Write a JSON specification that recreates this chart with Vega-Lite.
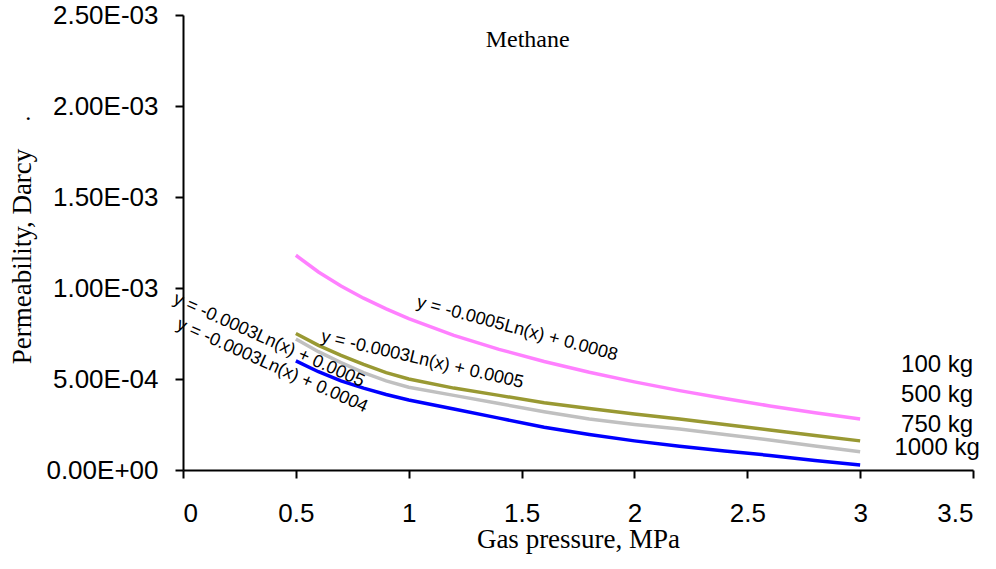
{
  "$schema": "https://vega.github.io/schema/vega-lite/v6.json",
  "width": 790,
  "height": 455,
  "autosize": {"type": "none"},
  "padding": {"left": 183, "top": 15, "right": 23, "bottom": 99},
  "background": "white",
  "config": {
    "view": {"stroke": null},
    "axis": {"grid": false, "domainColor": "black", "domainWidth": 2, "tickColor": "black", "tickWidth": 2, "tickSize": 8, "labelColor": "black", "titleColor": "black", "labelFont": "Liberation Sans", "labelFontSize": 26, "titleFont": "Liberation Serif", "titleFontSize": 27, "titleFontWeight": "normal"}
  },
  "datasets": {
    "curves": [
      {"series": "100 kg", "pressure": 0.5, "permeability": 0.00118},
      {"series": "100 kg", "pressure": 0.6, "permeability": 0.001088},
      {"series": "100 kg", "pressure": 0.7, "permeability": 0.001011},
      {"series": "100 kg", "pressure": 0.8, "permeability": 0.000944},
      {"series": "100 kg", "pressure": 0.9, "permeability": 0.000885},
      {"series": "100 kg", "pressure": 1.0, "permeability": 0.000832},
      {"series": "100 kg", "pressure": 1.2, "permeability": 0.00074},
      {"series": "100 kg", "pressure": 1.4, "permeability": 0.000663},
      {"series": "100 kg", "pressure": 1.6, "permeability": 0.000596},
      {"series": "100 kg", "pressure": 1.8, "permeability": 0.000537},
      {"series": "100 kg", "pressure": 2.0, "permeability": 0.000484},
      {"series": "100 kg", "pressure": 2.2, "permeability": 0.000436},
      {"series": "100 kg", "pressure": 2.4, "permeability": 0.000393},
      {"series": "100 kg", "pressure": 2.6, "permeability": 0.000352},
      {"series": "100 kg", "pressure": 2.8, "permeability": 0.000315},
      {"series": "100 kg", "pressure": 3.0, "permeability": 0.00028},
      {"series": "500 kg", "pressure": 0.5, "permeability": 0.00075},
      {"series": "500 kg", "pressure": 0.6, "permeability": 0.000685},
      {"series": "500 kg", "pressure": 0.7, "permeability": 0.00063},
      {"series": "500 kg", "pressure": 0.8, "permeability": 0.00058},
      {"series": "500 kg", "pressure": 0.9, "permeability": 0.000535},
      {"series": "500 kg", "pressure": 1.0, "permeability": 0.0005},
      {"series": "500 kg", "pressure": 1.2, "permeability": 0.00045},
      {"series": "500 kg", "pressure": 1.4, "permeability": 0.00041},
      {"series": "500 kg", "pressure": 1.6, "permeability": 0.00037},
      {"series": "500 kg", "pressure": 1.8, "permeability": 0.000338},
      {"series": "500 kg", "pressure": 2.0, "permeability": 0.000308},
      {"series": "500 kg", "pressure": 2.2, "permeability": 0.00028},
      {"series": "500 kg", "pressure": 2.4, "permeability": 0.00025},
      {"series": "500 kg", "pressure": 2.6, "permeability": 0.00022},
      {"series": "500 kg", "pressure": 2.8, "permeability": 0.00019},
      {"series": "500 kg", "pressure": 3.0, "permeability": 0.00016},
      {"series": "750 kg", "pressure": 0.5, "permeability": 0.00072},
      {"series": "750 kg", "pressure": 0.6, "permeability": 0.00065},
      {"series": "750 kg", "pressure": 0.7, "permeability": 0.00059},
      {"series": "750 kg", "pressure": 0.8, "permeability": 0.000535},
      {"series": "750 kg", "pressure": 0.9, "permeability": 0.00049},
      {"series": "750 kg", "pressure": 1.0, "permeability": 0.000455},
      {"series": "750 kg", "pressure": 1.2, "permeability": 0.00041},
      {"series": "750 kg", "pressure": 1.4, "permeability": 0.000365},
      {"series": "750 kg", "pressure": 1.6, "permeability": 0.00032},
      {"series": "750 kg", "pressure": 1.8, "permeability": 0.00028},
      {"series": "750 kg", "pressure": 2.0, "permeability": 0.00025},
      {"series": "750 kg", "pressure": 2.2, "permeability": 0.000225},
      {"series": "750 kg", "pressure": 2.4, "permeability": 0.000195},
      {"series": "750 kg", "pressure": 2.6, "permeability": 0.000165},
      {"series": "750 kg", "pressure": 2.8, "permeability": 0.000132},
      {"series": "750 kg", "pressure": 3.0, "permeability": 0.0001},
      {"series": "1000 kg", "pressure": 0.5, "permeability": 0.0006},
      {"series": "1000 kg", "pressure": 0.6, "permeability": 0.00054},
      {"series": "1000 kg", "pressure": 0.7, "permeability": 0.00049},
      {"series": "1000 kg", "pressure": 0.8, "permeability": 0.00045},
      {"series": "1000 kg", "pressure": 0.9, "permeability": 0.000415},
      {"series": "1000 kg", "pressure": 1.0, "permeability": 0.000385},
      {"series": "1000 kg", "pressure": 1.2, "permeability": 0.000335},
      {"series": "1000 kg", "pressure": 1.4, "permeability": 0.000285},
      {"series": "1000 kg", "pressure": 1.6, "permeability": 0.000235},
      {"series": "1000 kg", "pressure": 1.8, "permeability": 0.000195},
      {"series": "1000 kg", "pressure": 2.0, "permeability": 0.00016},
      {"series": "1000 kg", "pressure": 2.2, "permeability": 0.00013},
      {"series": "1000 kg", "pressure": 2.4, "permeability": 0.000105},
      {"series": "1000 kg", "pressure": 2.6, "permeability": 0.00008},
      {"series": "1000 kg", "pressure": 2.8, "permeability": 0.000052},
      {"series": "1000 kg", "pressure": 3.0, "permeability": 0.000027}
    ],
    "seriesLabels": [
      {"label": "100 kg", "pressure": 3.341, "permeability": 0.00054},
      {"label": "500 kg", "pressure": 3.341, "permeability": 0.000375},
      {"label": "750 kg", "pressure": 3.341, "permeability": 0.00021},
      {"label": "1000 kg", "pressure": 3.341, "permeability": 0.000082}
    ],
    "equations": [
      {"id": "pink", "label": "y = -0.0005Ln(x) + 0.0008", "pressure": 1.48, "permeability": 0.000775},
      {"id": "olive", "label": "y = -0.0003Ln(x) + 0.0005", "pressure": 1.06, "permeability": 0.000605},
      {"id": "grey", "label": "y = -0.0003Ln(x) + 0.0005", "pressure": 0.38, "permeability": 0.000712},
      {"id": "blue", "label": "y = -0.0003Ln(x) + 0.0004", "pressure": 0.395, "permeability": 0.000572}
    ],
    "notes": [
      {"label": "Methane", "pressure": 1.527, "permeability": 0.002326},
      {"label": ".", "pressure": -0.686, "permeability": 0.001923}
    ]
  },
  "layer": [
    {
      "data": {"name": "curves"},
      "mark": {"type": "line", "strokeWidth": 3.5},
      "encoding": {
        "x": {"field": "pressure", "type": "quantitative", "scale": {"domain": [0, 3.5], "nice": false, "zero": false},
          "axis": {"values": [0, 0.5, 1, 1.5, 2, 2.5, 3, 3.5], "labelExpr": "format(datum.value, '~g')", "labelPadding": 22, "title": "Gas pressure, MPa", "titleX": 395, "titleY": 77, "titleAnchor": null, "titleAlign": "center", "titleBaseline": "alphabetic"}},
        "y": {"field": "permeability", "type": "quantitative", "scale": {"domain": [0, 0.0025], "nice": false},
          "axis": {"values": [0, 0.0005, 0.001, 0.0015, 0.002, 0.0025], "labelExpr": "datum.value == 0 ? '0.00E+00' : format(datum.value / pow(10, floor(log(datum.value) / LN10 + 1e-9)), '.2f') + 'E-0' + (-floor(log(datum.value) / LN10 + 1e-9))", "labelPadding": 17, "title": "Permeability, Darcy", "titleX": -161, "titleY": 241, "titleAngle": -90, "titleAlign": "center", "titleBaseline": "middle"}},
        "color": {"field": "series", "type": "nominal", "scale": {"domain": ["100 kg", "500 kg", "750 kg", "1000 kg"], "range": ["#FF80FF", "#999933", "#C0C0C0", "#0000FF"]}, "legend": null},
        "order": {"field": "pressure", "type": "quantitative"}
      }
    },
    {
      "data": {"name": "seriesLabels"},
      "mark": {"type": "text", "font": "Liberation Sans", "fontSize": 24, "align": "center", "baseline": "alphabetic", "color": "black"},
      "encoding": {
        "x": {"field": "pressure", "type": "quantitative"},
        "y": {"field": "permeability", "type": "quantitative"},
        "text": {"field": "label"}
      }
    },
    {
      "data": {"name": "equations"},
      "transform": [{"filter": "datum.id == 'pink'"}],
      "mark": {"type": "text", "font": "Liberation Sans", "fontSize": 18, "align": "center", "baseline": "middle", "angle": 15, "color": "black"},
      "encoding": {
        "x": {"field": "pressure", "type": "quantitative"},
        "y": {"field": "permeability", "type": "quantitative"},
        "text": {"field": "label"}
      }
    },
    {
      "data": {"name": "equations"},
      "transform": [{"filter": "datum.id == 'olive'"}],
      "mark": {"type": "text", "font": "Liberation Sans", "fontSize": 18, "align": "center", "baseline": "middle", "angle": 13, "color": "black"},
      "encoding": {
        "x": {"field": "pressure", "type": "quantitative"},
        "y": {"field": "permeability", "type": "quantitative"},
        "text": {"field": "label"}
      }
    },
    {
      "data": {"name": "equations"},
      "transform": [{"filter": "datum.id == 'grey' || datum.id == 'blue'"}],
      "mark": {"type": "text", "font": "Liberation Sans", "fontSize": 18, "align": "center", "baseline": "middle", "angle": 24, "color": "black"},
      "encoding": {
        "x": {"field": "pressure", "type": "quantitative"},
        "y": {"field": "permeability", "type": "quantitative"},
        "text": {"field": "label"}
      }
    },
    {
      "data": {"name": "notes"},
      "mark": {"type": "text", "font": "Liberation Serif", "fontSize": 24, "align": "center", "baseline": "alphabetic", "color": "black"},
      "encoding": {
        "x": {"field": "pressure", "type": "quantitative"},
        "y": {"field": "permeability", "type": "quantitative"},
        "text": {"field": "label"}
      }
    }
  ]
}
